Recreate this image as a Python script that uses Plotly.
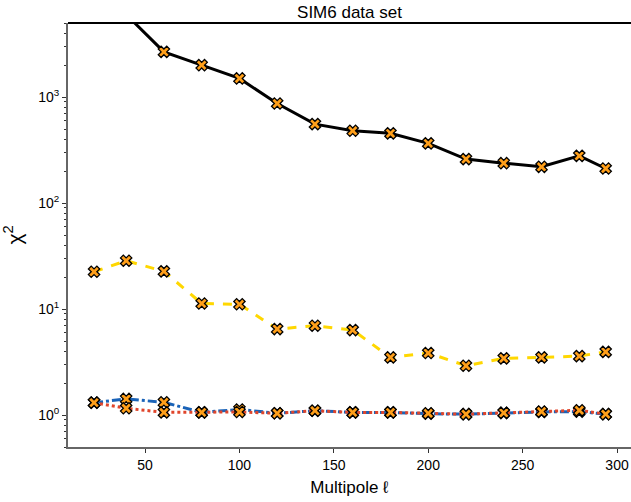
import plotly.graph_objects as go

# multipole bins
ell = [23, 40, 60, 80, 100, 120, 140, 160, 180, 200, 220, 240, 260, 280, 294]

# chi^2 per bin for the four fits
chi2_black = [12000, 6000, 2670, 2000, 1500, 870, 556, 481, 455, 366, 260, 238, 220, 279, 212]
chi2_yellow = [22.5, 28.6, 22.7, 11.3, 11.1, 6.48, 6.97, 6.34, 3.50, 3.85, 2.92, 3.43, 3.50, 3.60, 3.95]
chi2_blue = [1.31, 1.42, 1.32, 1.06, 1.13, 1.04, 1.10, 1.06, 1.06, 1.03, 1.02, 1.05, 1.07, 1.08, 1.02]
chi2_red = [1.31, 1.16, 1.06, 1.06, 1.07, 1.04, 1.10, 1.06, 1.06, 1.04, 1.02, 1.05, 1.08, 1.11, 1.02]

series = [
    (chi2_black, "#000000", "solid"),
    (chi2_yellow, "#ffd700", "dash"),
    (chi2_blue, "#1a63b8", "dashdot"),
    (chi2_red, "#e0452b", "dot"),
]

fig = go.Figure()
for vals, col, dash in series:
    fig.add_trace(go.Scatter(
        x=ell, y=vals, mode="lines+markers",
        line=dict(color=col, width=3, dash=dash),
        marker=dict(symbol="x", size=10, color="#ff9f1a",
                    line=dict(color="#000000", width=1.3)),
        showlegend=False, cliponaxis=True,
    ))

minor_vals = [m * 10 ** e for e in range(-1, 4) for m in range(2, 10)]
minor_vals = [v for v in minor_vals if 0.5 <= v <= 5000]

fig.update_layout(
    width=631, height=502,
    paper_bgcolor="white", plot_bgcolor="white",
    margin=dict(l=68, r=0, t=23, b=55),
    font=dict(family="Liberation Sans, Arial", color="#000000", size=14),
    title=dict(text="SIM6 data set", x=0.5, xref="paper", xanchor="center",
               y=1, yref="paper", yanchor="bottom", pad=dict(b=5),
               automargin=False, font=dict(size=17)),
    xaxis=dict(
        range=[9.2, 307.4], tickvals=[50, 100, 150, 200, 250, 300],
        showgrid=False, zeroline=False, automargin=False,
        showline=True, linecolor="#666666", linewidth=2,
        ticks="outside", ticklen=4, tickcolor="#333333",
        title=dict(text="Multipole ℓ", font=dict(size=17), standoff=9),
    ),
    # top spine (black) as an empty overlaying axis
    xaxis2=dict(
        overlaying="x", matches="x", side="top", automargin=False,
        showline=True, linecolor="#000000", linewidth=2,
        showticklabels=False, ticks="", showgrid=False, zeroline=False,
    ),
    yaxis=dict(
        type="log", range=[-0.301, 3.699], automargin=False,
        tickvals=[1, 10, 100, 1000],
        ticktext=["10<sup>0</sup>", "10<sup>1</sup>", "10<sup>2</sup>", "10<sup>3</sup>"],
        showgrid=False, zeroline=False,
        showline=True, linecolor="#666666", linewidth=2,
        ticks="outside", ticklen=4, tickcolor="#333333",
        minor=dict(tickvals=minor_vals, ticks="outside", ticklen=2.5,
                   tickcolor="#333333", showgrid=False),
        title=dict(text="χ<sup>2</sup>", font=dict(size=21), standoff=10),
    ),
    shapes=[dict(type="line", xref="paper", yref="paper", x0=0, x1=1, y0=1, y1=1,
                 layer="above", line=dict(color="#000000", width=2))],
)

# page body has a default 8px margin; drop it so the figure fills the window
fig.write_html("out.html", config={"displayModeBar": False},
               post_script="document.body.style.margin='0';")
